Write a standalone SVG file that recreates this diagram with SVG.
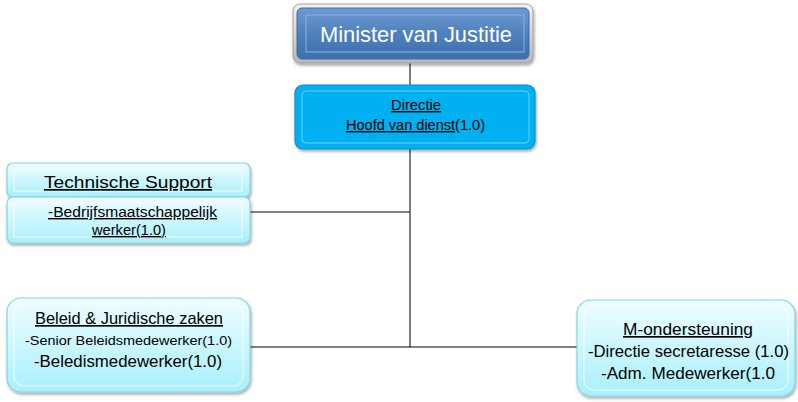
<svg xmlns="http://www.w3.org/2000/svg" width="798" height="402" viewBox="0 0 798 402">
<defs>
<linearGradient id="gMin" x1="0" y1="0" x2="0" y2="1">
<stop offset="0" stop-color="#6f9ad3"/><stop offset="0.5" stop-color="#4f81bd"/><stop offset="1" stop-color="#3f6fae"/>
</linearGradient>
<linearGradient id="gFrame" x1="0" y1="0" x2="0" y2="1">
<stop offset="0" stop-color="#f2f2f2"/><stop offset="1" stop-color="#b8b8b8"/>
</linearGradient>
<linearGradient id="gLight" x1="0" y1="0" x2="0" y2="1">
<stop offset="0" stop-color="#effdff"/><stop offset="1" stop-color="#a8f0fb"/>
</linearGradient>
<filter id="sh" x="-10%" y="-10%" width="120%" height="130%">
<feDropShadow dx="1" dy="2" stdDeviation="1.5" flood-color="#000" flood-opacity="0.35"/>
</filter>
<style>
text{font-family:"Liberation Sans",Arial,sans-serif;text-anchor:middle;fill:#000}
.u{text-decoration:underline}
.light{fill:url(#gLight);stroke:#86d3e3;stroke-width:1.2}
.inner{fill:none;stroke:#ffffff;stroke-opacity:0.7;stroke-width:1.2}
.conn line{stroke:#000;stroke-width:1}
</style>
</defs>
<g class="conn">
<line x1="410" y1="63" x2="410" y2="347"/>
<line x1="250" y1="212" x2="410" y2="212"/>
<line x1="250" y1="347" x2="577" y2="347"/>
</g>
<g id="minister">
<rect x="293" y="4" width="240" height="59" rx="7" fill="url(#gFrame)" stroke="#a0a0a0" filter="url(#sh)"/>
<rect x="297" y="8" width="232" height="51" rx="5" fill="url(#gMin)" stroke="#3d6aa5"/>
<rect x="306" y="15" width="218" height="37" fill="none" stroke="#8fb0dc" stroke-width="1"/>
<text x="416" y="42" font-size="22" style="fill:#fff" textLength="192" lengthAdjust="spacingAndGlyphs">Minister van Justitie</text>
</g>
<g id="directie">
<rect x="295" y="85" width="240" height="64" rx="8" fill="#00b0f0" stroke="#0d8fc4" stroke-width="1.2" filter="url(#sh)"/>
<rect x="302" y="91" width="227" height="52" rx="4" fill="none" stroke="#6fd0f7" stroke-width="1"/>
<text x="416" y="110" font-size="14" class="u" textLength="50" lengthAdjust="spacingAndGlyphs">Directie</text>
<text x="415.5" y="130" font-size="14" textLength="139" lengthAdjust="spacingAndGlyphs"><tspan class="u">Hoofd van dienst</tspan>(1.0)</text>
</g>
<g id="technische-support">
<rect x="7" y="163" width="243" height="34" rx="6" class="light" filter="url(#sh)"/>
<rect x="14" y="169" width="228" height="22" class="inner"/>
<text x="128" y="188" font-size="17" class="u" textLength="168" lengthAdjust="spacingAndGlyphs">Technische Support</text>
<rect x="7" y="197" width="243" height="46" rx="6" class="light" filter="url(#sh)"/>
<rect x="14" y="203" width="228" height="34" class="inner"/>
<text x="132.5" y="217" font-size="14" class="u" textLength="169" lengthAdjust="spacingAndGlyphs">-Bedrijfsmaatschappelijk</text>
<text x="129" y="235" font-size="14" class="u" textLength="74" lengthAdjust="spacingAndGlyphs">werker(1.0)</text>
</g>
<g id="beleid">
<rect x="7" y="298" width="243" height="94" rx="14" class="light" filter="url(#sh)"/>
<rect x="14" y="304" width="229" height="82" rx="10" class="inner"/>
<text x="129" y="324" font-size="16.5" class="u" textLength="188" lengthAdjust="spacingAndGlyphs">Beleid &amp; Juridische zaken</text>
<text x="128.5" y="345" font-size="13" textLength="207" lengthAdjust="spacingAndGlyphs">-Senior Beleidsmedewerker(1.0)</text>
<text x="128" y="367" font-size="17" textLength="188" lengthAdjust="spacingAndGlyphs">-Beledismedewerker(1.0)</text>
</g>
<g id="m-ondersteuning">
<rect x="577" y="300" width="218" height="96" rx="14" class="light" filter="url(#sh)"/>
<rect x="584" y="306" width="204" height="84" rx="10" class="inner"/>
<text x="688" y="335" font-size="16.5" class="u" textLength="130" lengthAdjust="spacingAndGlyphs">M-ondersteuning</text>
<text x="688.5" y="357" font-size="16.5" textLength="201" lengthAdjust="spacingAndGlyphs">-Directie secretaresse (1.0)</text>
<text x="688" y="379" font-size="16.5" textLength="174" lengthAdjust="spacingAndGlyphs">-Adm. Medewerker(1.0</text>
</g>
</svg>
